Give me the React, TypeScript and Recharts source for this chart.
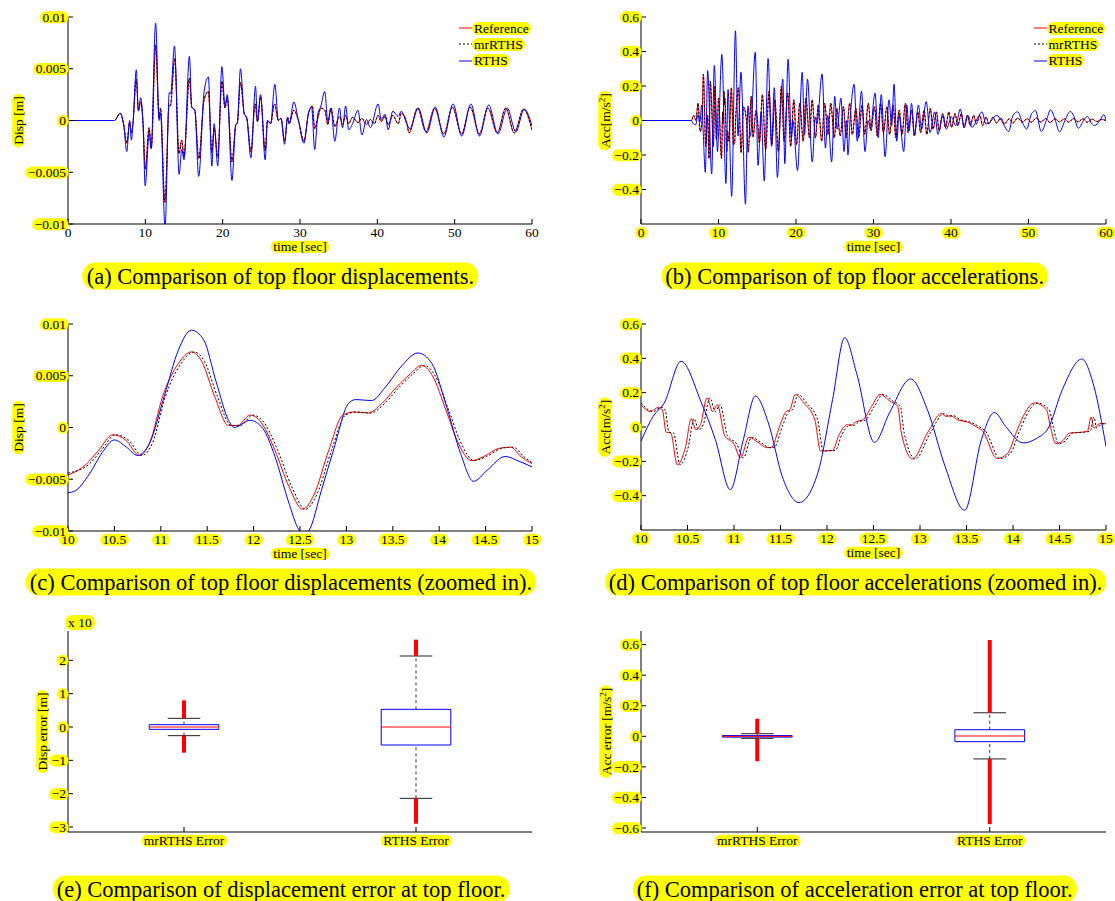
import React, { useLayoutEffect, useRef, useState } from 'react';
import { ComposedChart, Line, XAxis, YAxis, Legend, ReferenceArea, ReferenceLine, Scatter } from 'recharts';

const FONT = "'Liberation Serif', 'Times New Roman', Times, serif";
const YEL = '#ffff00';
const RED = '#ff0000';
const BLUE = '#0000ff';
const BLACK = '#000000';

// ---------------- tick values & labels ----------------
const T_FULL_TICKS = [0, 10, 20, 30, 40, 50, 60];
const T_FULL_LABELS = ['0', '10', '20', '30', '40', '50', '60'];
const T_ZOOM_TICKS = [10, 10.5, 11, 11.5, 12, 12.5, 13, 13.5, 14, 14.5, 15];
const T_ZOOM_LABELS = ['10', '10.5', '11', '11.5', '12', '12.5', '13', '13.5', '14', '14.5', '15'];
const DISP_TICKS = [-0.01, -0.005, 0, 0.005, 0.01];
const DISP_LABELS = ['\u22120.01', '\u22120.005', '0', '0.005', '0.01'];
const ACC_TICKS = [-0.4, -0.2, 0, 0.2, 0.4, 0.6];
const ACC_LABELS = ['\u22120.4', '\u22120.2', '0', '0.2', '0.4', '0.6'];
const DERR_TICKS = [-3, -2, -1, 0, 1, 2];
const DERR_LABELS = ['\u22123', '\u22122', '\u22121', '0', '1', '2'];
const AERR_TICKS = [-0.6, -0.4, -0.2, 0, 0.2, 0.4, 0.6];
const AERR_LABELS = ['\u22120.6', '\u22120.4', '\u22120.2', '0', '0.2', '0.4', '0.6'];
const CATEGORIES = ['mrRTHS Error', 'RTHS Error'];
const CAT_POS = [1, 2];
const SERIES_NAMES = ['Reference', 'mrRTHS', 'RTHS'];
const CAPTIONS = [
  '(a) Comparison of top floor displacements.',
  '(b) Comparison of top floor accelerations.',
  '(c) Comparison of top floor displacements (zoomed in).',
  '(d) Comparison of top floor accelerations (zoomed in).',
  '(e) Comparison of displacement error at top floor.',
  '(f) Comparison of acceleration error at top floor.',
];

// ---------------- (a) top floor displacement, 0-60 s [t, m] ----------------
const A_REF = [
  [0, 0], [6.0, 0], [6.75, 0.0007], [7.2, -0.0004], [7.6, -0.0022], [7.97, -0.0002], [8.2, -0.0012], [8.4, -0.0003],
  [8.83, 0.004], [9.1, 0.001], [9.4, 0.0018], [9.7, -0.0002], [10.0, -0.0047], [10.48, -0.0007], [10.77, -0.0027],
  [11.33, 0.0073], [11.78, 0.0002], [11.96, 0.0012], [12.53, -0.0079], [13.08, 0.0015], [13.23, 0.0014], [13.81, 0.006],
  [14.35, -0.0032], [14.7, -0.0019], [15.0, -0.0035], [15.7, 0.0041], [16.0, 0.0013], [16.4, 0.001], [16.9, -0.0037],
  [17.6, 0.002], [18.15, 0.0028], [18.6, -0.0031], [18.9, -0.0007], [19.36, -0.0035], [19.9, 0.0038], [20.3, 0.0012],
  [20.6, 0.0022], [21.2, -0.004], [21.7, -0.0004], [21.9, -0.0002], [22.3, 0.0037], [22.8, 0.0006], [23.1, 0.0003],
  [23.65, -0.003], [24.2, 0.0016], [24.5, -0.0001], [24.9, 0.0023], [25.5, -0.0029], [25.8, 0], [26.2, -0.0003],
  [26.7, 0.0016], [27.2, 0], [27.55, 0.0002], [28.0, -0.002], [28.4, 0.0003], [28.6, -0.0003], [29.2, 0.001], [29.8, 0],
  [30.5, -0.002], [31.1, 0.0007], [31.6, 0.0014], [31.9, -0.0008], [32.3, 0.0002], [32.7, 0.0012], [33.2, 0.001],
  [33.6, -0.0004], [34.0, 0.0012], [34.5, -0.0006], [35.1, 0.0004], [35.5, -0.0004], [35.9, 0.0005], [36.3, -0.0003],
  [36.8, 0.0003], [37.5, -0.0002], [38.0, 0.0002], [38.6, -0.0004], [39.1, 0.0001], [39.6, -0.0003], [40.1, 0.0005],
  [40.5, -0.0001], [41.0, 0.0004], [41.4, -0.0004], [42.0, 0.0005], [42.7, -0.0003], [43.1, 0.0007], [43.8, -0.0002],
  [44.1, -0.0012], [45.2, 0.0012], [46.3, -0.0011], [47.4, 0.0012], [48.6, -0.0013], [49.7, 0.0013], [50.9, -0.0013],
  [52.0, 0.0013], [53.2, -0.0013], [54.3, 0.0012], [55.5, -0.0012], [56.6, 0.0012], [57.7, -0.0012], [58.9, 0.0011],
  [60, -0.0009],
];
// mrRTHS lies on the reference within a pixel at this scale
const A_MR = A_REF;
const A_RTHS = [
  [0, 0], [6.0, 0], [6.75, 0.0007], [7.2, -0.0004], [7.6, -0.003], [7.97, 0], [8.2, -0.0019], [8.4, -0.0003],
  [8.83, 0.0049], [9.1, 0.0009], [9.4, 0.0022], [9.7, -0.0003], [9.98, -0.0063], [10.5, -0.0012], [10.75, -0.0027],
  [11.33, 0.0094], [11.79, 0], [11.96, 0.0007], [12.55, -0.0103], [13.1, 0.0027], [13.27, 0.0026], [13.77, 0.0072],
  [14.37, -0.0052], [14.71, -0.0028], [15.0, -0.0038], [15.7, 0.0062], [16.0, 0.0013], [16.4, 0.001], [16.9, -0.0054],
  [17.6, 0.0028], [18.15, 0.0042], [18.6, -0.0044], [18.9, -0.0003], [19.36, -0.0044], [19.9, 0.0052], [20.3, 0.0014],
  [20.6, 0.0025], [21.2, -0.0058], [21.7, -0.0004], [21.9, -0.0003], [22.3, 0.005], [22.8, 0.0006], [23.1, 0.0003],
  [23.65, -0.0036], [24.25, 0.0033], [24.5, -0.0001], [24.9, 0.0025], [25.5, -0.0038], [25.8, 0], [26.2, -0.0003],
  [26.75, 0.0035], [27.2, 0], [27.55, 0.0002], [28.0, -0.0023], [28.4, 0.0003], [28.6, -0.0003], [29.2, 0.0018],
  [29.8, 0], [30.5, -0.0022], [31.1, 0.0007], [31.5, 0.0013], [31.9, -0.0028], [32.3, 0.0006], [32.7, 0.0014],
  [33.2, 0.0028], [33.6, -0.0001], [34.0, 0.0012], [34.5, -0.002], [35.1, 0.0012], [35.5, -0.0007], [35.9, 0.0014],
  [36.3, -0.0009], [36.8, -0.0003], [37.5, 0.001], [38.0, -0.0014], [38.6, 0.0001], [39.1, -0.0007], [40.1, 0.0016],
  [40.5, 0.0001], [41.0, 0.0006], [41.4, -0.0009], [42.0, 0.0009], [42.7, 0.0004], [43.1, 0.0009], [43.8, -0.0003],
  [44.2, -0.0008], [45.3, 0.0012], [46.4, -0.0012], [47.5, 0.0013], [48.6, -0.0016], [49.8, 0.0016], [50.9, -0.0015],
  [52.1, 0.0016], [53.2, -0.0015], [54.4, 0.0015], [55.6, -0.0013], [56.8, 0.0012], [57.9, -0.0011], [59.0, 0.0011],
  [60, -0.0005],
];

// ---------------- (b) top floor acceleration, 0-60 s [t, m/s^2] ----------------
const B_REF = [
  [0, 0], [6.5, 0], [6.8, 0.03], [7.1, 0.0], [7.35, 0.1], [7.65, -0.064], [7.9, 0.02], [8.05, 0.267], [8.35, -0.15],
  [8.6, 0.03], [8.77, -0.22], [8.94, 0.228], [9.16, 0.03], [9.33, -0.15], [9.55, 0.2], [9.72, -0.11], [9.9, 0.02],
  [10.0, 0.13], [10.39, -0.22], [10.54, 0.05], [10.59, -0.016], [10.71, 0.17], [10.77, 0.09], [10.82, 0.13],
  [11.07, -0.18], [11.16, -0.06], [11.35, -0.12], [11.66, 0.19], [11.93, -0.14], [12.06, -0.136], [12.22, 0.014],
  [12.57, 0.19], [12.92, -0.186], [13.23, 0.078], [13.61, 0], [13.83, -0.184], [14.23, 0.14], [14.46, -0.097],
  [14.84, 0.058], [15.0, 0.02], [15.28, -0.13], [15.66, 0.15], [16.08, -0.17], [16.52, 0.17], [16.88, -0.14],
  [17.27, 0.12], [17.72, -0.18], [18.12, 0.2], [18.46, -0.12], [18.93, 0.16], [19.31, -0.15], [19.72, 0.12],
  [20.06, -0.14], [20.49, 0.1], [20.93, -0.12], [21.28, 0.13], [21.74, -0.1], [22.08, 0.12], [22.52, -0.1],
  [22.87, 0.09], [23.32, -0.12], [23.69, 0.1], [24.13, -0.08], [24.48, 0.1], [24.94, -0.1], [25.27, 0.07],
  [25.71, -0.09], [26.12, 0.08], [26.47, -0.1], [26.93, 0.1], [27.26, -0.08], [27.73, 0.07], [28.08, -0.1],
  [28.52, 0.09], [28.87, -0.08], [29.33, 0.1], [29.68, -0.06], [30.12, 0.08], [30.49, -0.09], [30.91, 0.1],
  [31.28, -0.07], [31.73, 0.08], [32.07, -0.08], [32.53, 0.09], [32.88, -0.1], [33.31, 0.06], [33.68, -0.08],
  [34.12, 0.1], [34.47, -0.07], [34.93, 0.06], [35.27, -0.09], [35.72, 0.05], [36.08, -0.07], [36.53, 0.06],
  [36.87, -0.08], [37.33, 0.07], [37.68, -0.05], [38.13, 0.05], [38.47, -0.06], [38.92, 0.04], [39.28, -0.04],
  [39.73, 0.05], [40.07, -0.04], [40.52, 0.04], [40.88, -0.03], [41.33, 0.04], [41.68, -0.04], [42.12, 0.03],
  [42.48, -0.03], [42.93, 0.03], [43.27, -0.02], [43.72, 0.03], [44.08, -0.03], [44.53, 0.02], [44.88, -0.02],
  [45.42, 0.02], [45.87, -0.015], [46.43, 0.015], [46.88, -0.02], [47.52, 0.01], [47.97, -0.015], [48.62, 0.015],
  [49.18, -0.01], [49.83, 0.01], [50.37, -0.01], [51.02, 0.015], [51.58, -0.01], [52.23, 0.012], [52.77, -0.012],
  [53.42, 0.01], [53.98, -0.008], [54.63, 0.01], [55.17, -0.01], [55.82, 0.012], [56.38, -0.008], [57.03, 0.01],
  [57.57, -0.01], [58.22, 0.008], [58.78, -0.006], [59.42, 0.006], [60, 0],
];
const B_MR = B_REF;
const B_RTHS = [
  [0, 0], [6.5, 0], [6.7, -0.016], [7.05, -0.025], [7.35, 0.033], [7.6, -0.01], [7.83, 0.09], [8.0, -0.04], [8.3, -0.3],
  [8.6, 0.29], [9.12, -0.31], [9.46, 0.32], [9.87, -0.18], [10.0, -0.083], [10.43, 0.383], [10.96, -0.365], [11.23, 0.18],
  [11.7, -0.44], [12.19, 0.52], [12.51, -0.09], [12.9, 0.28], [13.48, -0.485], [13.8, 0.085], [14.11, -0.093],
  [14.74, 0.396], [15.1, -0.26], [15.5, 0.05], [15.9, -0.35], [16.4, 0.36], [16.85, -0.15], [17.2, 0.19], [17.6, -0.33],
  [18.0, 0.05], [18.3, 0.24], [18.55, -0.25], [18.98, 0.355], [19.4, -0.1], [19.6, 0.0], [20.2, -0.29], [20.8, 0.28],
  [21.1, -0.08], [21.48, 0.24], [22.1, -0.24], [22.5, 0.02], [22.7, -0.02], [23.37, 0.27], [23.8, -0.16], [24.1, 0.03],
  [24.6, -0.24], [25.0, 0.14], [25.3, -0.05], [25.8, 0.13], [26.2, -0.18], [26.5, 0.0], [26.7, -0.2], [27.0, 0.02],
  [27.5, 0.21], [27.9, -0.12], [28.45, 0.17], [28.9, -0.18], [29.3, 0.0], [29.6, -0.05], [30.2, 0.16], [30.6, -0.1],
  [31.0, 0.15], [31.5, -0.21], [32.0, 0.12], [32.35, -0.03], [32.65, 0.21], [33.0, -0.12], [33.3, 0.03], [33.9, -0.18],
  [34.3, 0.09], [34.6, -0.06], [34.9, 0.1], [35.3, -0.08], [35.8, 0.09], [36.2, -0.05], [36.8, 0.11], [37.3, -0.07],
  [37.9, 0.05], [38.3, -0.08], [38.99, 0.03], [39.4, -0.05], [40.07, 0.02], [40.6, -0.03], [41.2, 0.066], [41.7, -0.04],
  [42.2, 0.03], [42.7, -0.04], [43.5, 0.02], [44.0, 0.05], [44.5, -0.02], [45.0, -0.01], [45.9, 0.03], [46.5, 0.0],
  [47.45, -0.064], [48.0, 0.03], [48.6, 0.05], [49.2, -0.01], [49.75, -0.05], [50.4, 0.04], [50.9, 0.057],
  [51.65, -0.064], [52.3, 0.0], [52.85, 0.062], [53.4, 0.01], [54.0, -0.066], [54.7, 0.0], [55.4, 0.053], [55.8, 0.03],
  [56.45, -0.045], [57.1, 0.0], [57.6, 0.023], [58.2, -0.02], [58.5, -0.03], [59.2, 0.0], [59.7, 0.033], [60, 0.004],
];

// ---------------- (c) displacement, zoom 10-15 s ----------------
const C_REF = [
  [10, -0.0046], [10.19, -0.0036], [10.33, -0.0022], [10.48, -0.0007], [10.62, -0.0012], [10.77, -0.0027],
  [10.88, -0.0015], [11.02, 0.003], [11.19, 0.0062], [11.33, 0.0073], [11.44, 0.0064], [11.58, 0.003], [11.73, 0.0002],
  [11.83, 0.0002], [11.96, 0.0012], [12.08, 0.0005], [12.23, -0.0022], [12.38, -0.0057], [12.53, -0.0079],
  [12.65, -0.0065], [12.81, -0.0022], [12.96, 0.0012], [13.08, 0.0015], [13.23, 0.0014], [13.38, 0.0023],
  [13.54, 0.0039], [13.69, 0.0052], [13.81, 0.006], [13.92, 0.0051], [14.08, 0.0015], [14.19, -0.0012],
  [14.35, -0.0032], [14.48, -0.0028], [14.65, -0.002], [14.77, -0.0019], [14.88, -0.0028], [15, -0.0035],
];
const C_MR = [
  [10, -0.0044], [10.22, -0.0036], [10.36, -0.0022], [10.51, -0.0007], [10.65, -0.0012], [10.8, -0.0027],
  [10.91, -0.0015], [11.05, 0.003], [11.22, 0.0062], [11.36, 0.0073], [11.47, 0.0064], [11.61, 0.003], [11.76, 0.0002],
  [11.86, 0.0002], [11.99, 0.0012], [12.11, 0.0005], [12.26, -0.0022], [12.41, -0.0057], [12.56, -0.0079],
  [12.68, -0.0065], [12.84, -0.0022], [12.99, 0.0012], [13.11, 0.0015], [13.26, 0.0014], [13.41, 0.0023],
  [13.57, 0.0039], [13.72, 0.0052], [13.84, 0.006], [13.95, 0.0051], [14.11, 0.0015], [14.22, -0.0012],
  [14.38, -0.0032], [14.51, -0.0028], [14.68, -0.002], [14.8, -0.0019], [14.91, -0.0028], [15, -0.0034],
];
const C_RTHS = [
  [10, -0.0063], [10.08, -0.0061], [10.23, -0.0045], [10.37, -0.0024], [10.5, -0.0012], [10.63, -0.0019],
  [10.75, -0.0027], [10.88, -0.0015], [11.04, 0.0031], [11.19, 0.0075], [11.33, 0.0094], [11.46, 0.0085],
  [11.6, 0.0043], [11.73, 0.0007], [11.79, 0], [11.96, 0.0007], [12.1, -0.0001], [12.23, -0.0028], [12.37, -0.007],
  [12.49, -0.0099], [12.55, -0.0103], [12.6, -0.0099], [12.73, -0.0061], [12.87, -0.0019], [13.02, 0.0023],
  [13.1, 0.0027], [13.27, 0.0026], [13.42, 0.0039], [13.6, 0.006], [13.77, 0.0072], [13.92, 0.0062], [14.08, 0.002],
  [14.23, -0.0025], [14.37, -0.0052], [14.52, -0.0041], [14.71, -0.0028], [14.87, -0.0033], [15, -0.0038],
];

// ---------------- (d) acceleration, zoom 10-15 s ----------------
const D_REF = [
  [10, 0.13], [10.1, 0.09], [10.19, 0.115], [10.23, 0.1], [10.27, -0.03], [10.32, -0.035], [10.39, -0.22],
  [10.48, -0.113], [10.54, 0.049], [10.59, -0.016], [10.64, 0.014], [10.71, 0.17], [10.77, 0.09], [10.82, 0.13],
  [10.9, -0.05], [11.0, -0.1], [11.07, -0.18], [11.16, -0.06], [11.26, -0.09], [11.35, -0.12], [11.4, -0.12],
  [11.49, 0.004], [11.56, 0.09], [11.6, 0.1], [11.66, 0.19], [11.75, 0.14], [11.87, 0.04], [11.93, -0.14],
  [12.06, -0.136], [12.13, -0.045], [12.22, 0.014], [12.25, 0.008], [12.32, 0.033], [12.38, 0.04], [12.48, 0.12],
  [12.57, 0.19], [12.68, 0.15], [12.76, 0.12], [12.8, -0.035], [12.92, -0.186], [13.08, -0.035], [13.23, 0.078],
  [13.28, 0.062], [13.33, 0.066], [13.4, 0.043], [13.52, 0.027], [13.61, 0], [13.67, -0.021], [13.83, -0.184],
  [13.94, -0.155], [14.04, -0.025], [14.11, 0.062], [14.23, 0.14], [14.36, 0.1], [14.4, 0.008], [14.46, -0.097],
  [14.53, -0.083], [14.61, -0.035], [14.72, -0.031], [14.8, -0.025], [14.84, 0.058], [14.87, -0.006], [14.93, 0.019],
  [15, 0.019],
];
const D_MR = [
  [10, 0.14], [10.13, 0.09], [10.22, 0.115], [10.26, 0.1], [10.3, -0.03], [10.35, -0.035], [10.42, -0.22],
  [10.51, -0.113], [10.57, 0.049], [10.62, -0.016], [10.67, 0.014], [10.74, 0.17], [10.8, 0.09], [10.85, 0.13],
  [10.93, -0.05], [11.03, -0.1], [11.1, -0.18], [11.19, -0.06], [11.29, -0.09], [11.38, -0.12], [11.43, -0.12],
  [11.52, 0.004], [11.59, 0.09], [11.63, 0.1], [11.69, 0.19], [11.78, 0.14], [11.9, 0.04], [11.96, -0.14],
  [12.09, -0.136], [12.16, -0.045], [12.25, 0.014], [12.28, 0.008], [12.35, 0.033], [12.41, 0.04], [12.51, 0.12],
  [12.6, 0.19], [12.71, 0.15], [12.79, 0.12], [12.83, -0.035], [12.95, -0.186], [13.11, -0.035], [13.26, 0.078],
  [13.31, 0.062], [13.36, 0.066], [13.43, 0.043], [13.55, 0.027], [13.64, 0], [13.7, -0.021], [13.86, -0.184],
  [13.97, -0.155], [14.07, -0.025], [14.14, 0.062], [14.26, 0.14], [14.39, 0.1], [14.43, 0.008], [14.49, -0.097],
  [14.56, -0.083], [14.64, -0.035], [14.75, -0.031], [14.83, -0.025], [14.87, 0.058], [14.9, -0.006], [14.96, 0.019],
  [15, 0.02],
];
const D_RTHS = [
  [10, -0.083], [10.13, 0.062], [10.25, 0.14], [10.43, 0.383], [10.65, 0.14], [10.8, -0.074], [10.96, -0.365],
  [11.1, -0.074], [11.23, 0.18], [11.37, 0.023], [11.52, -0.29], [11.7, -0.44], [11.9, -0.27], [12.06, 0.16],
  [12.19, 0.52], [12.32, 0.31], [12.51, -0.09], [12.67, 0.08], [12.9, 0.28], [13.08, 0.1], [13.27, -0.23],
  [13.48, -0.485], [13.66, -0.074], [13.8, 0.085], [13.92, 0.004], [14.11, -0.093], [14.26, -0.064], [14.38, -0.006],
  [14.53, 0.217], [14.74, 0.396], [14.87, 0.237], [15, -0.113],
];

// ---------------- (e) displacement error box stats [x 10^-3 m] ----------------
const E_Q1 = [-0.07, -0.54];
const E_Q3 = [0.07, 0.53];
const E_MED = [0, 0];
const E_WLO = [-0.26, -2.14];
const E_WHI = [0.26, 2.13];
const E_OLO = [-0.77, -2.9];
const E_OHI = [0.8, 2.62];

// ---------------- (f) acceleration error box stats [m/s^2] ----------------
const F_Q1 = [-0.005, -0.035];
const F_Q3 = [0.005, 0.043];
const F_MED = [0, 0.002];
const F_WLO = [-0.013, -0.148];
const F_WHI = [0.017, 0.154];
const F_OLO = [-0.163, -0.575];
const F_OHI = [0.115, 0.63];

// ---------------- helpers ----------------
const rows = (pairs: number[][]) => pairs.map(([t, v]) => ({ t, v }));

function HL({ x, y, anchor = 'middle', size = 13.5, rotate = 0, hl = true, padX = 2.5, padY = -1.5, children }: any) {
  const ref = useRef<SVGTextElement | null>(null);
  const [bb, setBb] = useState<any>(null);
  useLayoutEffect(() => {
    const el = ref.current;
    if (!el) return;
    const b = el.getBBox();
    setBb((p: any) =>
      p && Math.abs(p.x - b.x) < 0.01 && Math.abs(p.y - b.y) < 0.01 && Math.abs(p.w - b.width) < 0.01 && Math.abs(p.h - b.height) < 0.01
        ? p
        : { x: b.x, y: b.y, w: b.width, h: b.height }
    );
  });
  const h = bb ? bb.h + 2 * padY : 0;
  const r = Math.min(h / 2, 7);
  return (
    <g transform={rotate ? `rotate(${rotate} ${x} ${y})` : undefined}>
      {hl && bb ? <rect x={bb.x - padX} y={bb.y - padY} width={bb.w + 2 * padX} height={h} rx={r} ry={r} fill={YEL} /> : null}
      <text ref={ref} x={x} y={y + size * 0.35} textAnchor={anchor} fontSize={size} fontFamily={FONT} fill={BLACK}>
        {children}
      </text>
    </g>
  );
}

const lookup = (ticks: number[], labels: string[]) => (v: number) => {
  const i = ticks.findIndex((t) => Math.abs(t - v) < 1e-9);
  return i >= 0 ? labels[i] : '';
};

function axesFor(cfg: any) {
  const { xDomain, xTicks, xLabels, yDomain, yTicks, yLabels, hlX, W, H, yLabel, yLabelOff, xLabel } = cfg;
  const xf = lookup(xTicks, xLabels);
  const yf = lookup(yTicks, yLabels);
  const common = { allowDataOverflow: true, interval: 0 as const, tickSize: 0, tickMargin: 0, tickLine: false, axisLine: { stroke: BLACK, strokeWidth: 1 } };
  const bottomTick = (p: any) => (
    <g>
      <line x1={p.x} y1={p.y} x2={p.x} y2={p.y - 5} stroke={BLACK} />
      <HL x={p.x} y={p.y + 8.5} hl={hlX}>{xf(p.payload.value)}</HL>
    </g>
  );
  const topTick = (p: any) => <line x1={p.x} y1={p.y} x2={p.x} y2={p.y + 5} stroke={BLACK} />;
  const leftTick = (p: any) => (
    <g>
      <line x1={p.x} y1={p.y} x2={p.x + 5} y2={p.y} stroke={BLACK} />
      <HL x={p.x - 2} y={p.y} anchor="end">{yf(p.payload.value)}</HL>
    </g>
  );
  const rightTick = (p: any) => <line x1={p.x} y1={p.y} x2={p.x - 5} y2={p.y} stroke={BLACK} />;
  const PL = 70, PT = 20;
  return [
    <XAxis key="xb" xAxisId={0} dataKey={cfg.xKey} type="number" domain={xDomain} ticks={xTicks} height={40} {...common} tick={bottomTick}
      label={xLabel ? { content: () => <HL x={PL + W / 2} y={PT + H + 22.5}>{xLabel}</HL> } : undefined} />,
    <XAxis key="xt" xAxisId="top" orientation="top" dataKey={cfg.xKey} type="number" domain={xDomain} ticks={xTicks} height={0} {...common} tick={topTick} />,
    <YAxis key="yl" yAxisId={0} type="number" domain={yDomain} ticks={yTicks} width={70} {...common} tick={leftTick}
      label={{ content: () => <HL x={PL - yLabelOff} y={PT + H / 2} rotate={-90}>{yLabel}</HL> }} />,
    <YAxis key="yr" yAxisId="right" orientation="right" type="number" domain={yDomain} ticks={yTicks} width={0} {...common} tick={rightTick} />,
  ];
}

function LegendBox({ series }: any) {
  return (
    <div style={{ fontFamily: FONT, fontSize: 13.5, color: BLACK }}>
      {series.map((s: any) => (
        <div key={s.name} style={{ display: 'flex', alignItems: 'center', height: 16.2 }}>
          <svg width={13} height={10} style={{ display: 'block' }}>
            <line x1={0} y1={5} x2={13} y2={5} stroke={s.color} strokeWidth={1} strokeDasharray={s.dash} />
          </svg>
          <span style={{ background: YEL, borderRadius: 7, padding: '0 2px', lineHeight: '13px', height: 13, display: 'inline-block', whiteSpace: 'nowrap' }}>
            {s.name}
          </span>
        </div>
      ))}
    </div>
  );
}

function TimePanel(cfg: any) {
  const { L, T, W, H, series, legendAt } = cfg;
  const cw = W + 90;
  const ch = H + 60;
  return (
    <div style={{ position: 'absolute', left: L - 70, top: T - 20, width: cw, height: ch }}>
      <ComposedChart width={cw} height={ch} margin={{ top: 20, right: 20, bottom: 0, left: 0 }}>
        {axesFor({ ...cfg, xKey: 't' })}
        {series.map((s: any) => (
          <Line key={s.name} data={rows(s.data)} dataKey="v" name={s.name} type="monotone" stroke={s.color} strokeWidth={1}
            strokeDasharray={s.dash} dot={false} activeDot={false} isAnimationActive={false} />
        ))}
        {legendAt ? (
          <Legend layout="vertical" align="center" verticalAlign="middle"
            wrapperStyle={{ left: legendAt[0] - (L - 70), top: legendAt[1] - (T - 20), width: 'auto', height: 'auto' }}
            content={() => <LegendBox series={series} />} />
        ) : null}
      </ComposedChart>
    </div>
  );
}

function BoxPanel(cfg: any) {
  const { L, T, W, H, q1, q3, med, wlo, whi, olo, ohi } = cfg;
  const cw = W + 90;
  const ch = H + 60;
  const BOX_HALF = 0.15;
  const CAP_HALF = 0.07;
  const xDomain = [0.5, 2.5];
  const medHalfPx = (W / (xDomain[1] - xDomain[0])) * BOX_HALF;
  const data = CAT_POS.map((p, i) => ({ pos: p, med: med[i] }));
  return (
    <div style={{ position: 'absolute', left: L - 70, top: T - 20, width: cw, height: ch }}>
      <ComposedChart width={cw} height={ch} data={data} margin={{ top: 20, right: 20, bottom: 0, left: 0 }}>
        {axesFor({ ...cfg, xKey: 'pos', xDomain, xTicks: CAT_POS, xLabels: CATEGORIES, hlX: true })}
        {CAT_POS.map((p, i) => (
          <ReferenceLine key={'wu' + i} segment={[{ x: p, y: q3[i] }, { x: p, y: whi[i] }]} stroke="#333" strokeDasharray="3 3" />
        ))}
        {CAT_POS.map((p, i) => (
          <ReferenceLine key={'wl' + i} segment={[{ x: p, y: wlo[i] }, { x: p, y: q1[i] }]} stroke="#333" strokeDasharray="3 3" />
        ))}
        {CAT_POS.map((p, i) => (
          <ReferenceLine key={'cu' + i} segment={[{ x: p - CAP_HALF, y: whi[i] }, { x: p + CAP_HALF, y: whi[i] }]} stroke="#222" />
        ))}
        {CAT_POS.map((p, i) => (
          <ReferenceLine key={'cl' + i} segment={[{ x: p - CAP_HALF, y: wlo[i] }, { x: p + CAP_HALF, y: wlo[i] }]} stroke="#222" />
        ))}
        {CAT_POS.map((p, i) => (
          <ReferenceArea key={'bx' + i} x1={p - BOX_HALF} x2={p + BOX_HALF} y1={q1[i]} y2={q3[i]} fill="none" fillOpacity={0} stroke={BLUE} strokeWidth={1} />
        ))}
        {CAT_POS.map((p, i) => (
          <ReferenceLine key={'ou' + i} segment={[{ x: p, y: whi[i] }, { x: p, y: ohi[i] }]} stroke={RED} strokeWidth={4} />
        ))}
        {CAT_POS.map((p, i) => (
          <ReferenceLine key={'ol' + i} segment={[{ x: p, y: olo[i] }, { x: p, y: wlo[i] }]} stroke={RED} strokeWidth={4} />
        ))}
        <Scatter dataKey="med" isAnimationActive={false}
          shape={(sp: any) => <line x1={sp.cx - medHalfPx} x2={sp.cx + medHalfPx} y1={sp.cy} y2={sp.cy} stroke={RED} strokeWidth={1} />} />
      </ComposedChart>
    </div>
  );
}

const ACC_LABEL = (
  <>
    Acc[m/s<tspan dy={-5} fontSize={9}>2</tspan><tspan dy={5}>]</tspan>
  </>
);
const ACC_ERR_LABEL = (
  <>
    Acc error [m/s<tspan dy={-5} fontSize={9}>2</tspan><tspan dy={5}>]</tspan>
  </>
);

const CAPTION_POS = [[280.4, 276], [854.7, 276], [281, 581.7], [855.6, 581.7], [281, 889], [854.7, 889]];

export default function App() {
  const mk = (ref: number[][], mr: number[][], rths: number[][]) => [
    { name: SERIES_NAMES[0], data: ref, color: RED },
    { name: SERIES_NAMES[1], data: mr, color: BLACK, dash: '2 2' },
    { name: SERIES_NAMES[2], data: rths, color: BLUE },
  ];
  return (
    <div style={{ position: 'absolute', left: 0, top: 0, width: 1115, height: 901, background: '#fff', overflow: 'hidden' }}>
      <TimePanel L={68} T={17} W={464} H={207} xDomain={[0, 60]} xTicks={T_FULL_TICKS} xLabels={T_FULL_LABELS} hlX={false}
        yDomain={[-0.01, 0.01]} yTicks={DISP_TICKS} yLabels={DISP_LABELS} yLabel="Disp [m]" yLabelOff={50} xLabel="time [sec]"
        series={mk(A_REF, A_MR, A_RTHS)} legendAt={[459, 20.2]} />
      <TimePanel L={641} T={17} W={465} H={207} xDomain={[0, 60]} xTicks={T_FULL_TICKS} xLabels={T_FULL_LABELS} hlX={true}
        yDomain={[-0.6, 0.6]} yTicks={ACC_TICKS} yLabels={ACC_LABELS} yLabel={ACC_LABEL} yLabelOff={36} xLabel="time [sec]"
        series={mk(B_REF, B_MR, B_RTHS)} legendAt={[1033.6, 20.2]} />
      <TimePanel L={68} T={324} W={464} H={207} xDomain={[10, 15]} xTicks={T_ZOOM_TICKS} xLabels={T_ZOOM_LABELS} hlX={true}
        yDomain={[-0.01, 0.01]} yTicks={DISP_TICKS} yLabels={DISP_LABELS} yLabel="Disp [m]" yLabelOff={50} xLabel="time [sec]"
        series={mk(C_REF, C_MR, C_RTHS)} />
      <TimePanel L={641} T={324} W={465} H={206} xDomain={[10, 15]} xTicks={T_ZOOM_TICKS} xLabels={T_ZOOM_LABELS} hlX={true}
        yDomain={[-0.6, 0.6]} yTicks={ACC_TICKS} yLabels={ACC_LABELS} yLabel={ACC_LABEL} yLabelOff={36} xLabel="time [sec]"
        series={mk(D_REF, D_MR, D_RTHS)} />
      <BoxPanel L={68} T={631} W={464} H={201} yDomain={[-3.15, 2.88]} yTicks={DERR_TICKS} yLabels={DERR_LABELS}
        yLabel="Disp error [m]" yLabelOff={26} q1={E_Q1} q3={E_Q3} med={E_MED} wlo={E_WLO} whi={E_WHI} olo={E_OLO} ohi={E_OHI} />
      <BoxPanel L={641} T={631} W={465} H={201} yDomain={[-0.626, 0.689]} yTicks={AERR_TICKS} yLabels={AERR_LABELS}
        yLabel={ACC_ERR_LABEL} yLabelOff={35} q1={F_Q1} q3={F_Q3} med={F_MED} wlo={F_WLO} whi={F_WHI} olo={F_OLO} ohi={F_OHI} />
      <div style={{ position: 'absolute', left: 65, top: 615, height: 15, lineHeight: '15px', padding: '0 3px', background: YEL,
        borderRadius: 7, fontFamily: FONT, fontSize: 13.5, color: BLACK, whiteSpace: 'nowrap' }}>
        x 10
      </div>
      {CAPTIONS.map((c, i) => (
        <div key={c} style={{ position: 'absolute', left: CAPTION_POS[i][0], top: CAPTION_POS[i][1], transform: 'translate(-50%, -50%)',
          fontFamily: FONT, fontSize: 22.5, lineHeight: '27px', background: YEL, borderRadius: 13, padding: '0 4px',
          whiteSpace: 'nowrap', color: BLACK }}>
          {c}
        </div>
      ))}
    </div>
  );
}
